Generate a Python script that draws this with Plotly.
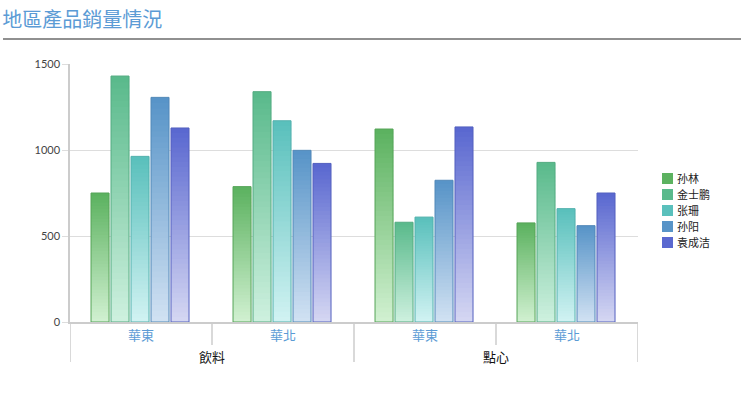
import plotly.graph_objects as go

# ---- data ----
outer_labels = ["飲料", "飲料", "點心", "點心"]
inner_labels = ["華東", "華北", "華東", "華北"]
series_names = ["孙林", "金士鹏", "张珊", "孙阳", "袁成洁"]
v_sunlin = [750, 787, 1122, 576]
v_jinshipeng = [1430, 1339, 580, 928]
v_zhangshan = [963, 1170, 610, 659]
v_sunyang = [1306, 998, 824, 560]
v_yuanchengjie = [1128, 922, 1134, 750]
series_values = [v_sunlin, v_jinshipeng, v_zhangshan, v_sunyang, v_yuanchengjie]
y_ticks = [0, 500, 1000, 1500]

# ---- style ----
top_colors = [(92, 178, 96), (90, 186, 140), (90, 192, 188), (88, 148, 200), (90, 104, 208)]
bottom_colors = [(208, 240, 208), (205, 240, 222), (208, 242, 242), (208, 225, 242), (212, 214, 242)]
N = 40
bar_w = 0.127
step = 0.1408
first_off = -0.352
FONT = "Lato, 'Noto Sans CJK TC', 'Noto Sans CJK SC', sans-serif"
PLOT_W, PLOT_H = 568, 258

keys = [f"{o}/{i}" for o, i in zip(outer_labels, inner_labels)]

def rgb(c):
    return "rgb(%d,%d,%d)" % tuple(int(round(x)) for x in c)

fig = go.Figure()
for si, (name, vals) in enumerate(zip(series_names, series_values)):
    off = first_off + si * step
    top, bot = top_colors[si], bottom_colors[si]
    for k in range(N):
        t = k / (N - 1)
        col = tuple(b + (tp - b) * t for b, tp in zip(bot, top))
        base = [v * k / N for v in vals]
        h = [min(v / N * 1.6, v - b0) for v, b0 in zip(vals, base)]
        fig.add_trace(go.Bar(
            x=keys, y=h, base=base, offset=off, width=bar_w,
            marker=dict(color=rgb(col), line=dict(width=0)),
            name=name, legendgroup=name, showlegend=False,
            hoverinfo="skip"))
    # outline
    fig.add_trace(go.Bar(
        x=keys, y=vals, offset=off, width=bar_w,
        marker=dict(color="rgba(0,0,0,0)", line=dict(width=1, color=rgb(tuple(c * 0.92 for c in top)))),
        name=name, legendgroup=name, showlegend=False, hoverinfo="skip"))

shapes = []
annotations = []
# title underline
shapes.append(dict(type="line", xref="paper", yref="paper", x0=-67 / PLOT_W, x1=671 / PLOT_W,
                   y0=1.0 + 25 / PLOT_H, y1=1.0 + 25 / PLOT_H, line=dict(color="#222", width=1.2)))
# dividers
n = len(keys)
for i in range(n + 1):
    xpos = i - 0.5
    is_outer = (i == 0 or i == n or outer_labels[i - 1] != outer_labels[i])
    y1 = -40 / PLOT_H if is_outer else -23 / PLOT_H
    shapes.append(dict(type="line", xref="x", yref="paper", x0=xpos, x1=xpos, y0=0, y1=y1,
                       line=dict(color="#cccccc", width=1.5)))

for i, lab in enumerate(inner_labels):
    annotations.append(dict(x=i, y=-13 / PLOT_H, xref="x", yref="paper", text=lab, showarrow=False,
                            font=dict(size=13, color="#5b9bd5", family=FONT), yanchor="middle"))
groups = []
for i, o in enumerate(outer_labels):
    if not groups or groups[-1][0] != o:
        groups.append([o, [i]])
    else:
        groups[-1][1].append(i)
for o, idx in groups:
    annotations.append(dict(x=sum(idx) / len(idx), y=-35 / PLOT_H, xref="x", yref="paper", text=o,
                            showarrow=False, font=dict(size=13, color="#111", family=FONT),
                            yanchor="middle"))

# legend (drawn as layout items)
for si, name in enumerate(series_names):
    yc = (322 - (178.5 + 16 * si)) / PLOT_H
    x0 = (662 - 70) / PLOT_W
    shapes.append(dict(type="rect", xref="paper", yref="paper",
                       x0=x0, x1=x0 + 11 / PLOT_W, y0=yc - 5.5 / PLOT_H, y1=yc + 5.5 / PLOT_H,
                       fillcolor=rgb(top_colors[si]), line=dict(width=0)))
    annotations.append(dict(x=(675 - 70) / PLOT_W, y=yc, xref="paper", yref="paper", text=name,
                            showarrow=False, xanchor="left", yanchor="middle",
                            font=dict(size=11, color="#222", family=FONT)))

fig.update_layout(
    width=756, height=395,
    margin=dict(l=70, r=118, t=64, b=73),
    paper_bgcolor="white", plot_bgcolor="white",
    barmode="overlay",
    font=dict(family=FONT, size=11, color="#333"),
    title=dict(text="地區產品銷量情況", x=0.003, xref="container", y=1 - 20 / 395, yref="container",
               yanchor="middle", xanchor="left",
               font=dict(size=20, color="#5b9bd5", family=FONT)),
    xaxis=dict(type="category", categoryorder="array", categoryarray=keys,
               range=[-0.5, n - 0.5], showticklabels=False, showgrid=False,
               showline=True, linecolor="#cccccc", linewidth=1.5, ticks="", zeroline=False),
    yaxis=dict(range=[0, 1500], tickvals=y_ticks, showgrid=True, gridcolor="#dddddd",
               gridwidth=1.2, showline=True, linecolor="#cccccc", linewidth=1.5,
               ticks="outside", ticklen=6, tickcolor="#dddddd", zeroline=False,
               tickfont=dict(size=11, color="#444")),
    shapes=shapes, annotations=annotations,
    showlegend=False,
)

fig.write_html("out.html", config={"displayModeBar": False},
               post_script="document.body.style.margin='0';")
